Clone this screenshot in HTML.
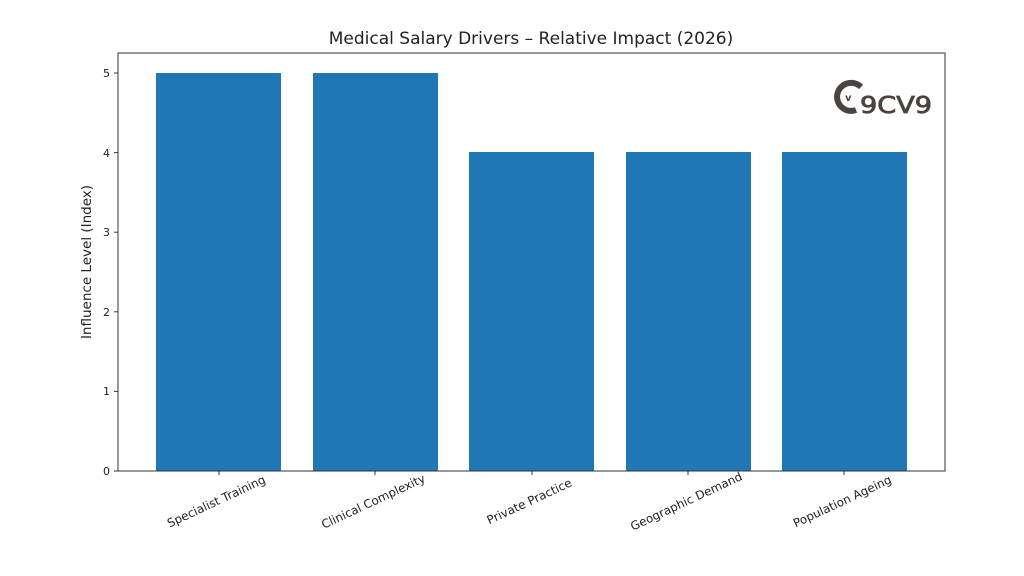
<!DOCTYPE html>
<html><head><style>body{margin:0;background:#fff}svg{display:block}</style></head><body>
<svg width="1024" height="576" xmlns="http://www.w3.org/2000/svg" font-family="DejaVu Sans, sans-serif">
<rect width="1024" height="576" fill="#fff"/>
<text x="531" y="44" text-anchor="middle" font-size="17" fill="#222">Medical Salary Drivers – Relative Impact (2026)</text>
<g fill="#1f77b4">
<rect x="156" y="73" width="125" height="398"/>
<rect x="313" y="73" width="125" height="398"/>
<rect x="469" y="152" width="125" height="319"/>
<rect x="626" y="152" width="125" height="319"/>
<rect x="782" y="152" width="125" height="319"/>
</g>
<rect x="118" y="53" width="827" height="418" fill="none" stroke="#333" stroke-width="1"/>
<g stroke="#333">
<line x1="114" y1="471" x2="118" y2="471"/><line x1="114" y1="391.4" x2="118" y2="391.4"/><line x1="114" y1="311.8" x2="118" y2="311.8"/><line x1="114" y1="232.2" x2="118" y2="232.2"/><line x1="114" y1="152.6" x2="118" y2="152.6"/><line x1="114" y1="73" x2="118" y2="73"/>
<line x1="219" y1="471" x2="219" y2="475"/><line x1="375" y1="471" x2="375" y2="475"/><line x1="532" y1="471" x2="532" y2="475"/><line x1="688" y1="471" x2="688" y2="475"/><line x1="844" y1="471" x2="844" y2="475"/>
</g>
<g font-size="11" fill="#222" text-anchor="end">
<text x="110" y="475">0</text><text x="110" y="395">1</text><text x="110" y="316">2</text><text x="110" y="236">3</text><text x="110" y="157">4</text><text x="110" y="77">5</text>
</g>
<text transform="translate(91,262) rotate(-90)" text-anchor="middle" font-size="13.5" fill="#222">Influence Level (Index)</text>
<g font-size="11.8" fill="#222" text-anchor="middle">
<text transform="translate(218,505) rotate(-25)">Specialist Training</text>
<text transform="translate(375,505) rotate(-25)">Clinical Complexity</text>
<text transform="translate(531,505) rotate(-25)">Private Practice</text>
<text transform="translate(688,505) rotate(-25)">Geographic Demand</text>
<text transform="translate(844,505) rotate(-25)">Population Ageing</text>
</g>
<g>
<path d="M861 87 A14 14 0 1 0 856 110" fill="none" stroke="#4a4340" stroke-width="6"/>
<text x="845" y="101" font-size="10" font-weight="bold" fill="#4a4340">v</text>
<text x="860" y="113" font-size="23" fill="#4a4340" textLength="72" lengthAdjust="spacingAndGlyphs" stroke="#4a4340" stroke-width="0.8">9CV9</text>
</g>
</svg>
</body></html>
